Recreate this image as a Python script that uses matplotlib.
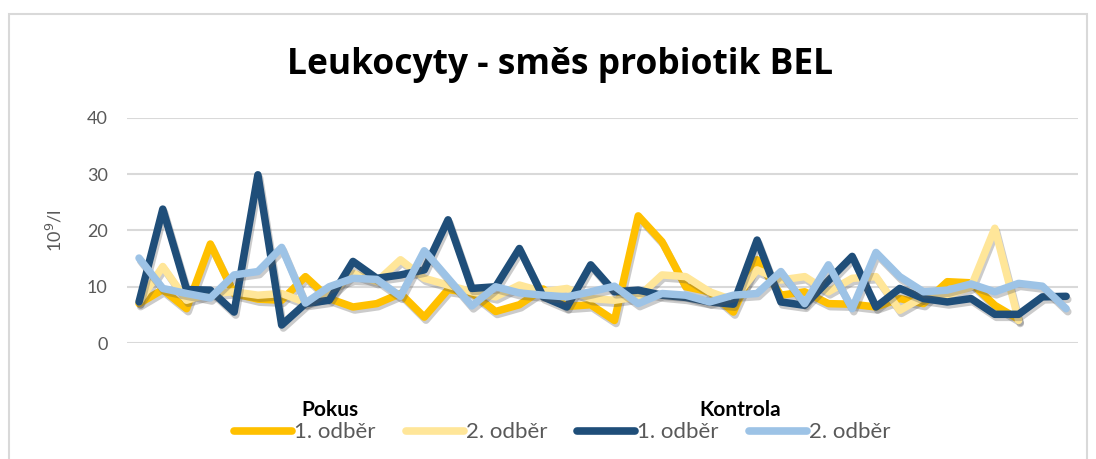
import matplotlib.pyplot as plt
import matplotlib.patheffects as pe
from matplotlib.patches import Rectangle
import numpy as np

# values (10^9/l)
pokus_1 = [7.0, 9.5, 6.1, 17.6, 8.8, 7.8, 7.6, 11.8, 7.9, 6.4,
           7.0, 8.8, 4.6, 9.5, 8.9, 5.6, 6.8, 9.6, 6.5, 6.8,
           4.0, 22.6, 18.0, 10.0, 9.1, 5.5, 14.8, 8.5, 9.1, 7.0,
           6.9, 6.4, 7.9, 7.0, 10.9, 10.7, 6.7, 4.2]
pokus_2 = [7.3, 13.6, 7.6, 8.8, 9.1, 8.5, 8.8, 7.2, 8.5, 12.4,
           10.9, 14.8, 11.5, 10.3, 9.1, 8.2, 10.3, 9.1, 9.7, 7.9,
           7.6, 8.2, 12.1, 11.8, 9.1, 7.6, 13.0, 11.2, 11.8, 9.1,
           11.5, 11.8, 5.8, 8.2, 8.5, 10.0, 20.4, 4.0]
kontrola_1 = [7.3, 23.8, 9.5, 9.4, 5.5, 29.9, 3.2, 7.0, 7.6, 14.5,
              11.5, 12.1, 13.0, 21.9, 9.7, 10.0, 16.8, 8.2, 6.4, 13.9,
              9.1, 9.4, 8.5, 8.1, 7.3, 6.9, 18.3, 7.3, 6.7, 11.1,
              15.4, 6.4, 9.7, 7.9, 7.3, 7.9, 5.1, 5.1, 8.2, 8.3]
kontrola_2 = [15.1, 9.7, 8.8, 8.0, 12.1, 12.7, 17.0, 7.1, 10.0, 11.5,
              11.3, 8.3, 16.4, 11.5, 6.6, 10.0, 8.9, 8.5, 8.2, 9.1,
              10.1, 7.0, 8.8, 8.5, 7.3, 8.5, 8.8, 12.7, 7.0, 13.9,
              6.1, 16.1, 11.8, 9.1, 9.4, 10.5, 9.1, 10.6, 10.1, 6.1]

series = [("1. odběr", pokus_1, "#FFC000"),
          ("2. odběr", pokus_2, "#FFE699"),
          ("1. odběr", kontrola_1, "#1F4E79"),
          ("2. odběr", kontrola_2, "#9DC3E6")]

fig = plt.figure(figsize=(10.96, 4.59), dpi=100)
fig.patches.append(Rectangle((0.0082, -0.05), 0.9836, 1.0195, transform=fig.transFigure,
                             fill=False, edgecolor="#d9d9d9", lw=1.5))
ax = fig.add_axes([0.116, 0.2527, 0.8676, 0.4903])

shadow = [pe.SimpleLineShadow(offset=(1.2, -2.2), shadow_color="#555555", alpha=0.3),
          pe.Normal()]
handles = []
for label, vals, col in series:
    ln, = ax.plot(np.arange(len(vals)), vals, color=col, lw=5.4,
                  solid_joinstyle="round", solid_capstyle="round",
                  path_effects=shadow, label=label)
    handles.append(ln)

ax.set_xlim(-0.5, 39.5)
ax.set_ylim(0, 40)
ax.set_yticks([0, 10, 20, 30, 40])
ax.set_xticks([])
ax.grid(axis="y", color="#d9d9d9", lw=1.5)
ax.set_axisbelow(True)
for s in ax.spines.values():
    s.set_visible(False)
ax.tick_params(axis="y", length=0, pad=14, labelsize=13, labelcolor="#595959")
for t in ax.get_yticklabels():
    t.set_fontfamily("Lato")
ax.set_ylabel("10$^{9}$/l", fontsize=13, color="#595959", family="Lato", labelpad=16)

fig.text(0.511, 0.858, "Leukocyty - směs probiotik BEL", ha="center", va="center",
         fontsize=25.5, fontweight="bold", family="Open Sans", color="black")

leg = fig.legend(handles=handles, loc="center", bbox_to_anchor=(0.513, 0.058), ncol=4,
                 frameon=False, handlelength=2.6, handletextpad=0.1, columnspacing=1.35,
                 prop={"family": "Lato", "size": 16})
for t in leg.get_texts():
    t.set_color("#595959")
for h in leg.legend_handles:
    h.set_path_effects([])
    h.set_linewidth(5.5)

fig.text(0.301, 0.107, "Pokus", ha="center", va="center", fontsize=15,
         fontweight="bold", family="Lato")
fig.text(0.675, 0.107, "Kontrola", ha="center", va="center", fontsize=15,
         fontweight="bold", family="Lato")

fig.savefig("out.png", dpi=100)
